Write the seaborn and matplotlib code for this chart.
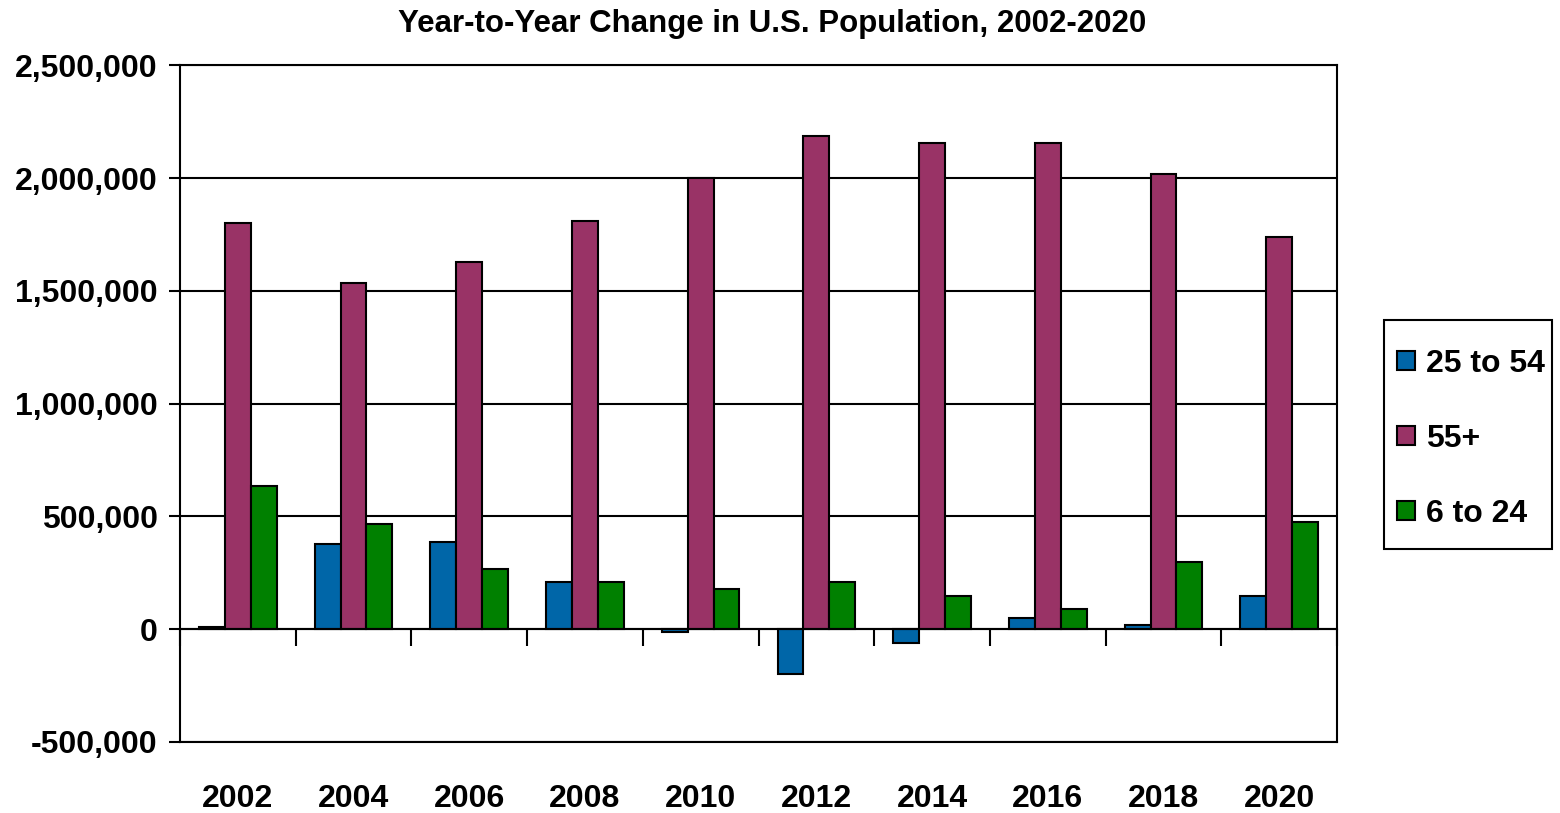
import numpy as np
import pandas as pd
import matplotlib
matplotlib.use("Agg")
import matplotlib.pyplot as plt
import matplotlib.patches as mpatches
import seaborn as sns
from matplotlib.ticker import FuncFormatter

# Values
years = ["2002", "2004", "2006", "2008", "2010", "2012", "2014", "2016", "2018", "2020"]
age_25_54 = [10000, 377000, 387000, 208000, -10000, -197000, -60000, 50000, 21000, 148000]
age_55_plus = [1800000, 1535000, 1630000, 1810000, 2000000, 2187000, 2156000, 2156000, 2018000, 1741000]
age_6_24 = [636000, 465000, 268000, 208000, 178000, 208000, 148000, 90000, 298000, 474000]
groups = ["25 to 54", "55+", "6 to 24"]
colors = ["#0066A8", "#993366", "#008000"]

df = pd.DataFrame({"year": years, groups[0]: age_25_54, groups[1]: age_55_plus, groups[2]: age_6_24})
df = df.melt(id_vars="year", var_name="group", value_name="change")

sns.set_style("white")
plt.rcParams["font.family"] = ["Liberation Sans", "DejaVu Sans"]
plt.rcParams["font.weight"] = "bold"
plt.rcParams["text.color"] = "black"
plt.rcParams["xtick.color"] = "black"
plt.rcParams["ytick.color"] = "black"

fig = plt.figure(figsize=(15.6, 8.13), dpi=100)
ax = fig.add_axes([180 / 1560, 1 - 742 / 813, (1337 - 180) / 1560, (742 - 65.5) / 813])

sns.barplot(data=df, x="year", y="change", hue="group", hue_order=groups,
            palette=colors, saturation=1, width=0.67, gap=0,
            edgecolor="black", linewidth=1.5, ax=ax)

ax.set_xlim(-0.5, 9.5)
ax.set_ylim(-500000, 2500000)
ax.set_yticks(np.arange(-500000, 2500001, 500000))
ax.yaxis.set_major_formatter(FuncFormatter(lambda v, p: f"{int(v):,}"))
ax.yaxis.grid(True, color="black", linewidth=1.5)
ax.set_axisbelow(True)
ax.tick_params(axis="y", direction="out", length=8, width=1.5, color="black",
               labelcolor="black", labelsize=23, pad=8, left=True)
ax.set_xlabel("")
ax.set_ylabel("")

# category axis drawn at zero, with tick marks between the groups
ax.spines["bottom"].set_position(("data", 0))
ax.set_xticks(np.arange(-0.5, 10.0, 1), labels=[""] * 11)
ax.tick_params(axis="x", direction="out", length=12, width=1.5, color="black", bottom=True)
for side in ["left", "right", "top", "bottom"]:
    ax.spines[side].set_color("black")
    ax.spines[side].set_linewidth(1.5)

# year labels under the plot area
sec = ax.secondary_xaxis("bottom")
sec.set_xticks(range(len(years)), labels=years)
sec.tick_params(length=0, pad=30, labelsize=23, labelcolor="black")
sec.spines["bottom"].set_linewidth(1.5)
sec.spines["bottom"].set_color("black")

# legend, with its own box drawn around it
handles, labels = ax.get_legend_handles_labels()
ax.get_legend().remove()
leg = fig.legend(handles, labels, loc="center left", bbox_to_anchor=(1397 / 1560, 1 - 439 / 813),
                 frameon=False, fontsize=23, borderpad=0, borderaxespad=0,
                 handlelength=0.55, handleheight=0.55, handletextpad=0.35,
                 labelspacing=1.41)
for t in leg.get_texts():
    t.set_color("black")
fig.patches.append(mpatches.Rectangle((1384 / 1560, 1 - 549 / 813), 168 / 1560, 229 / 813,
                                      transform=fig.transFigure, fill=False,
                                      edgecolor="black", linewidth=1.5))

fig.text(0.495, 1 - 24 / 813, "Year-to-Year Change in U.S. Population, 2002-2020",
         ha="center", va="center", fontsize=22.5, fontweight="bold", color="black")

fig.savefig("out.png", dpi=100)
